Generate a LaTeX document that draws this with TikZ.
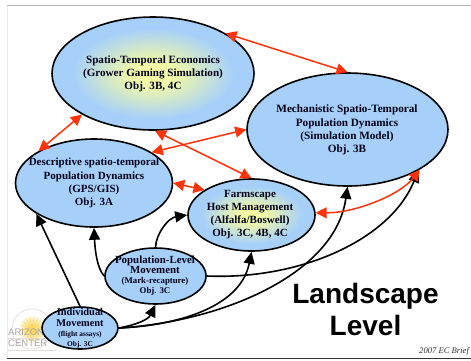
\documentclass[tikz,border=0pt]{standalone}
\usepackage{fontspec}
\setmainfont{Liberation Serif}
\newfontfamily\hv{Liberation Sans}
\usetikzlibrary{arrows.meta,shapes.geometric}
\definecolor{sky}{RGB}{166,208,250}
\definecolor{glow}{RGB}{248,252,160}
\definecolor{redarr}{RGB}{255,51,10}
\pgfdeclareradialshading{glowsh}{\pgfpoint{0bp}{0bp}}{color(0bp)=(glow); color(6bp)=(glow!88!sky); color(20bp)=(sky); color(50bp)=(sky)}
\tikzset{
 x=1pt,y=-1pt,
 blob/.style={ellipse,draw=black,line width=1.6pt,fill=sky,inner sep=0pt},
 glowblob/.style={blob,shading=glowsh},
 lbl/.style={align=center,inner sep=0pt,text=black!90!blue},
 rarr/.style={draw=redarr,line width=1.5pt,{Triangle[length=11pt,width=11pt]}-{Triangle[length=11pt,width=11pt]}},
 barr/.style={draw=black,line width=1.6pt,-{Triangle[length=12pt,width=11pt]}},
 logotxt/.style={text=black!35,inner sep=0pt,anchor=west,font=\hv\fontsize{9.5}{10}\selectfont},
}
\begin{document}
\begin{tikzpicture}
\useasboundingbox (0,0) rectangle (471,360);
\fill[white] (0,0) rectangle (471,360);
\draw[black!30,line width=.8pt] (7,5.5) -- (471,5.5);
\draw[black!8,line width=.6pt] (7,5.5) -- (7,358);
\draw[black!80,line width=.9pt] (7,358) -- (471,358);
% logo
\shade[inner color=orange!50!yellow!80!white,outer color=white] (32,329) circle (14);
\foreach \a in {0,20,...,340}{\draw[orange!50!yellow!60!white,line width=.6pt] (32,329) -- ++(\a:12);}
\draw[red!40!black!18,line width=.5pt] (32,329) circle (20);
\draw[red!40!black!15,line width=.5pt] (8,350) -- (56,350);
\draw[red!40!black!15,line width=.5pt] (8,338) -- (56,338);
\node[logotxt] (logoa) at (8,332) {ARIZONA};
\node[logotxt] (logob) at (8,343) {CENTER};
%
\node[glowblob,minimum width=202pt,minimum height=113pt] (eco) at (153,73.5) {};
\node[blob,minimum width=201pt,minimum height=113pt] (mech) at (347.5,129.5) {};
\node[blob,minimum width=157pt,minimum height=88pt] (desc) at (94,183) {};
\node[glowblob,minimum width=127pt,minimum height=72pt] (farm) at (251.5,215) {};
\node[blob,minimum width=101pt,minimum height=56pt] (pop) at (155.5,276) {};
\node[blob,minimum width=76pt,minimum height=42pt] (ind) at (80,328) {};
% black
\draw[barr] (ind.90) -- (desc.208);
\draw[barr] (pop.west) .. controls (97,268) and (95,250) .. (desc.south);
\draw[barr] (pop.north) .. controls (156,234) and (168,218) .. (farm.180);
\draw[barr] (ind.east) .. controls (135,325) and (148,320) .. (pop.south);
\draw[barr] (ind.east) .. controls (170,326) and (240,310) .. (farm.south);
\draw[barr] (pop.east) .. controls (300,280) and (390,240) .. (mech.-30.4);
\draw[barr] (ind.east) .. controls (220,322) and (335,275) .. (mech.south);
% red
\draw[rarr] (eco.210.3) -- (desc.150.6);
\draw[rarr] (eco.29) -- (mech.90);
\draw[rarr] (desc.28) -- (mech.180);
\draw[rarr] (eco.-88) -- (farm.90);
\draw[rarr] (desc.0) -- (farm.152);
\draw[rarr] (farm.2) .. controls (355,213) and (400,195) .. (mech.-29.5);
% labels
\node[lbl,font=\bfseries\fontsize{11.1}{13.3}\selectfont] (ecot) at (153,74) {Spatio-Temporal Economics\\(Grower Gaming Simulation)\\Obj. 3B, 4C};
\node[lbl,font=\bfseries\fontsize{11.2}{13.3}\selectfont] (mecht) at (347,130) {Mechanistic Spatio-Temporal\\Population Dynamics\\(Simulation Model)\\Obj. 3B};
\node[lbl,font=\bfseries\fontsize{11}{13.3}\selectfont] (desct) at (94,183) {Descriptive spatio-temporal\\Population Dynamics\\(GPS/GIS)\\Obj. 3A};
\node[lbl,font=\bfseries\fontsize{11}{13}\selectfont] (farmt) at (250,215) {Farmscape\\Host Management\\(Alfalfa/Boswell)\\Obj. 3C, 4B, 4C};
\node[lbl,font=\bfseries\fontsize{10.9}{10.5}\selectfont] (popt) at (155,275.5) {Population-Level\\Movement\\[-0.5pt]{\fontsize{8.8}{9.5}\selectfont (Mark-recapture)}\\[-0.5pt]{\fontsize{8.8}{9.5}\selectfont Obj. 3C}};
\node[lbl,font=\bfseries\fontsize{10.4}{11}\selectfont] (indt) at (80,328) {Individual\\Movement\\[-0.5pt]{\fontsize{7.4}{9}\selectfont (flight assays)}\\[-1pt]{\fontsize{7.4}{9}\selectfont Obj. 3C}};
\node[font=\hv\bfseries\fontsize{28}{32}\selectfont,align=center,text=black,inner sep=0pt] (land) at (365.5,309) {Landscape\\Level};
\node[font=\itshape\fontsize{8.6}{9}\selectfont,anchor=west,inner sep=0pt,text=black!80] (cr) at (419,351) {2007 EC Brief};
\end{tikzpicture}
\end{document}
